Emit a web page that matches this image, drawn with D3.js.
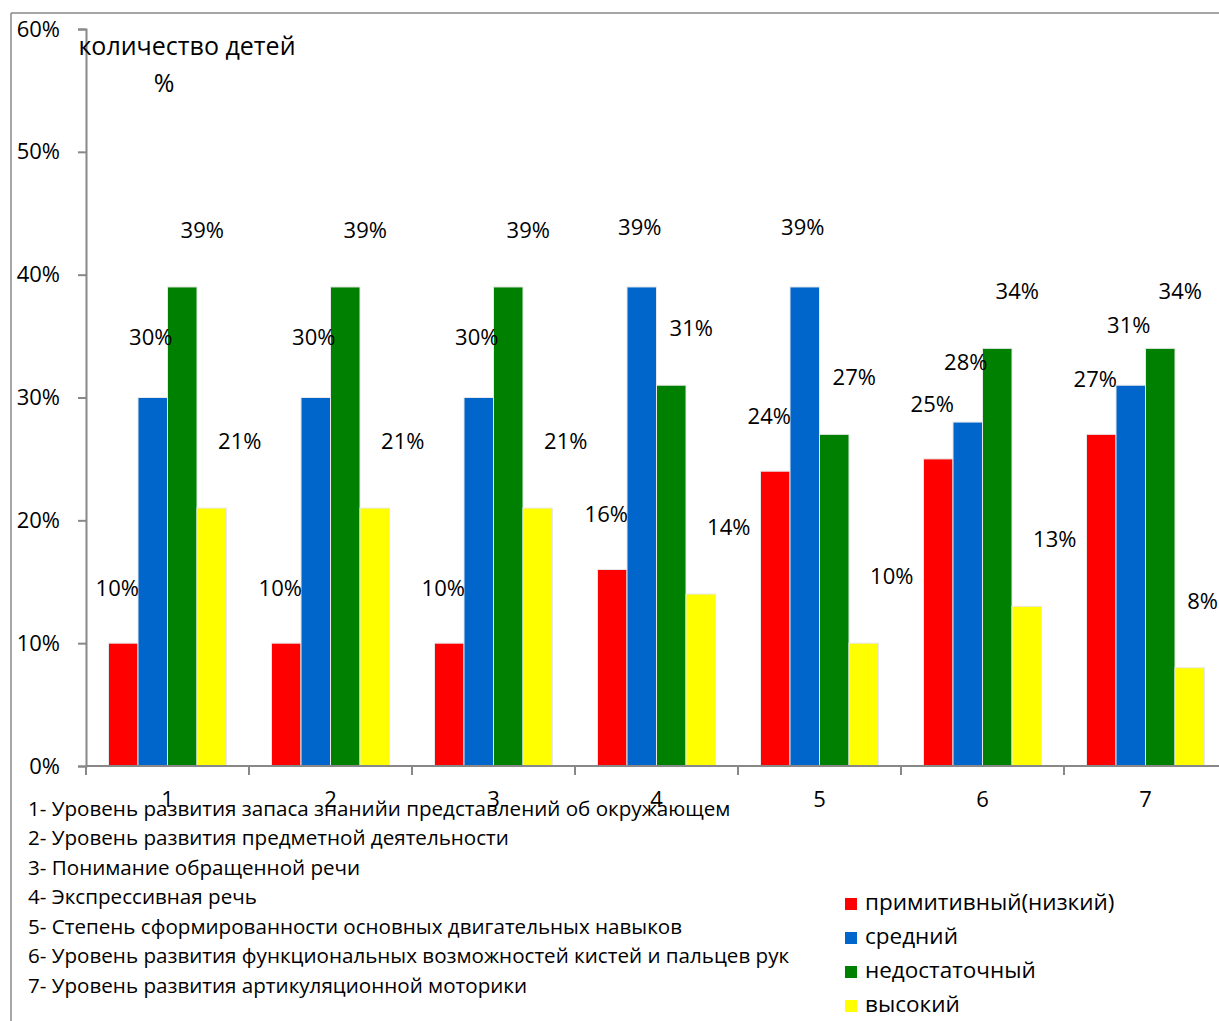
<!DOCTYPE html>
<html>
<head>
<meta charset="utf-8">
<script src="https://cdn.jsdelivr.net/npm/d3@7"></script>
<style>
  html, body { margin: 0; padding: 0; background: #fff; }
  svg { display: block; font-family: "Open Sans", "Noto Sans", sans-serif; }
</style>
</head>
<body>
<svg id="chart" width="1219" height="1021"></svg>
<script>
// Skill areas (categories) 1..7
const categories = ["1", "2", "3", "4", "5", "6", "7"];

// Share of children at each level, per category
const seriesNames = ["примитивный(низкий)", "средний", "недостаточный", "высокий"];
const low        = [0.10, 0.10, 0.10, 0.16, 0.24, 0.25, 0.27];
const medium     = [0.30, 0.30, 0.30, 0.39, 0.39, 0.28, 0.31];
const inadequate = [0.39, 0.39, 0.39, 0.31, 0.27, 0.34, 0.34];
const high       = [0.21, 0.21, 0.21, 0.14, 0.10, 0.13, 0.08];

const yTicks = [0, 0.1, 0.2, 0.3, 0.4, 0.5, 0.6];

const descriptions = [
  "1- Уровень развития запаса знанийи представлений об окружающем",
  "2- Уровень развития предметной деятельности",
  "3- Понимание обращенной речи",
  "4- Экспрессивная речь",
  "5- Степень сформированности основных двигательных навыков",
  "6- Уровень развития функциональных возможностей кистей и пальцев рук",
  "7- Уровень развития артикуляционной моторики"
];

const seriesValues = [low, medium, inadequate, high];
const colors = ["#ff0000", "#0066cc", "#008000", "#ffff00"];
// value-label offsets for each series, relative to the top centre of its bar
const labelShift = [[-6, -53], [-2, -58], [20, -55], [28, -65]];

const W = 1219;
const svg = d3.select("#chart");
const axisColor = "#888";

// outer frame (left and top edges)
svg.append("line").attr("x1", 11).attr("x2", 11).attr("y1", 13).attr("y2", 1021)
  .attr("stroke", axisColor).attr("stroke-width", 1.5);
svg.append("line").attr("x1", 11).attr("x2", W).attr("y1", 13).attr("y2", 13)
  .attr("stroke", axisColor).attr("stroke-width", 1.5);

const plotLeft = 86, plotBottom = 766, plotTop = 29;
const step = 163;

const x = d3.scaleBand().domain(categories)
  .range([plotLeft, plotLeft + step * categories.length])
  .paddingInner(0.276).paddingOuter(0.138);
const xSub = d3.scaleBand().domain(d3.range(seriesNames.length))
  .range([0, x.bandwidth()]);
const y = d3.scaleLinear().domain([0, 0.6]).range([plotBottom, plotTop]);

// bars
const groups = svg.append("g").selectAll("g")
  .data(categories)
  .join("g")
  .attr("transform", d => `translate(${x(d)},0)`);

groups.selectAll("rect")
  .data((d, i) => seriesValues.map((vals, s) => ({ s, v: vals[i] })))
  .join("rect")
  .attr("x", d => xSub(d.s))
  .attr("width", xSub.bandwidth())
  .attr("y", d => y(d.v))
  .attr("height", d => y(0) - y(d.v))
  .attr("fill", d => colors[d.s])
  .attr("stroke", "#e8e8e8")
  .attr("stroke-width", 1);

// value labels
groups.selectAll("text")
  .data((d, i) => seriesValues.map((vals, s) => ({ s, v: vals[i], cat: d })))
  .join("text")
  .attr("x", d => xSub(d.s) + xSub.bandwidth() / 2 + labelShift[d.s][0])
  .attr("y", d => y(d.v) + labelShift[d.s][1])
  .attr("text-anchor", "middle")
  .attr("dominant-baseline", "middle")
  .attr("font-size", 22)
  .attr("fill", "#000")
  .text(d => d3.format(".0%")(d.v))
  .each(function (d) {
    // keep labels inside the chart's right edge
    const box = this.getBBox();
    const right = x(d.cat) + box.x + box.width;
    if (right > W - 1) {
      d3.select(this).attr("x", +d3.select(this).attr("x") - (right - (W - 1)));
    }
  });

// y axis
const yAxis = d3.axisLeft(y).tickValues(yTicks).tickFormat(d3.format(".0%"))
  .tickSize(8).tickPadding(18);
const gy = svg.append("g").attr("transform", `translate(${plotLeft},0)`).call(yAxis);
gy.select(".domain").attr("stroke", axisColor).attr("stroke-width", 2);
gy.selectAll(".tick line").attr("stroke", axisColor).attr("stroke-width", 2);
gy.selectAll(".tick text").attr("font-size", 22).attr("fill", "#000")
  .attr("font-family", "\"Open Sans\", sans-serif");

// x axis: tick marks at category boundaries, labels under the groups
const gx = svg.append("g");
gx.append("line")
  .attr("x1", plotLeft).attr("x2", W)
  .attr("y1", plotBottom).attr("y2", plotBottom)
  .attr("stroke", axisColor).attr("stroke-width", 2);
gx.selectAll("line.tk")
  .data(categories)
  .join("line")
  .attr("class", "tk")
  .attr("x1", d => x(d) - x.step() * x.paddingOuter())
  .attr("x2", d => x(d) - x.step() * x.paddingOuter())
  .attr("y1", plotBottom).attr("y2", plotBottom + 9)
  .attr("stroke", axisColor).attr("stroke-width", 2);
gx.selectAll("text")
  .data(categories)
  .join("text")
  .attr("x", d => x(d) + x.bandwidth() / 2)
  .attr("y", 801)
  .attr("text-anchor", "middle")
  .attr("dominant-baseline", "middle")
  .attr("font-size", 22)
  .text(d => d);

// axis title
svg.append("text").attr("x", 187).attr("y", 48)
  .attr("text-anchor", "middle").attr("dominant-baseline", "middle")
  .attr("font-size", 25).text("количество детей");
svg.append("text").attr("x", 164).attr("y", 85)
  .attr("text-anchor", "middle").attr("dominant-baseline", "middle")
  .attr("font-size", 25).text("%");

// category descriptions
svg.append("g").selectAll("text")
  .data(descriptions)
  .join("text")
  .attr("x", 28)
  .attr("y", (d, i) => 810 + i * 29.5)
  .attr("dominant-baseline", "middle")
  .attr("font-size", 20.6)
  .text(d => d);

// legend
const legend = svg.append("g").selectAll("g")
  .data(seriesNames)
  .join("g")
  .attr("transform", (d, i) => `translate(845,${904 + i * 34})`);
legend.append("rect")
  .attr("x", 0).attr("y", -6).attr("width", 12).attr("height", 12)
  .attr("fill", (d, i) => colors[i]);
legend.append("text")
  .attr("x", 20).attr("y", 0)
  .attr("dominant-baseline", "middle")
  .attr("font-size", 22.5)
  .text(d => d);
</script>
</body>
</html>
